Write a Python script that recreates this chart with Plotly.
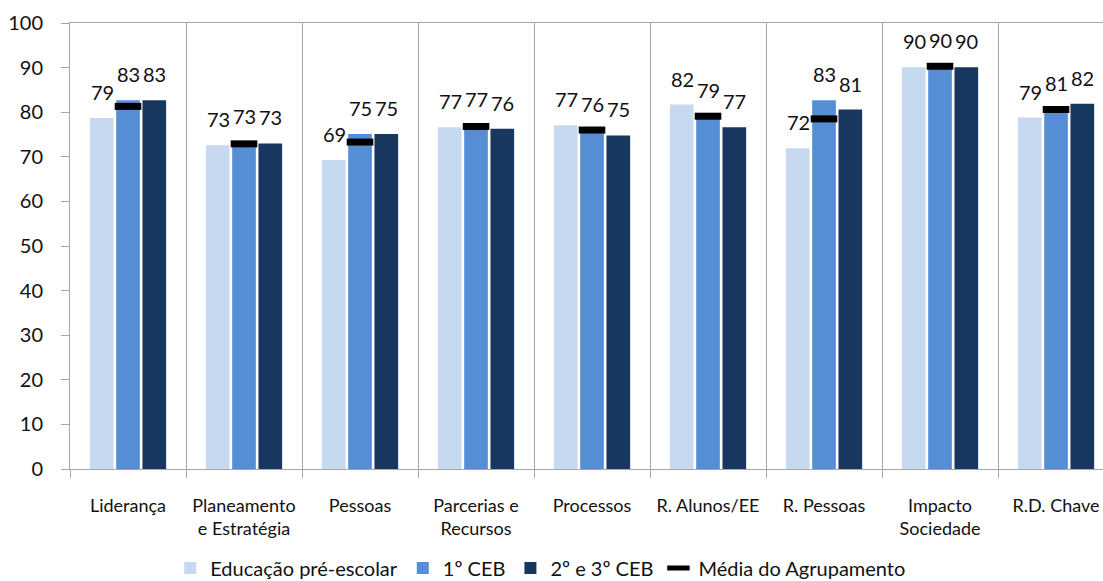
import plotly.graph_objects as go

categories = ["Liderança", "Planeamento<br>e Estratégia", "Pessoas", "Parcerias e<br>Recursos",
              "Processos", "R. Alunos/EE", "R. Pessoas", "Impacto<br>Sociedade", "R.D. Chave"]
pre_escolar = [78.7, 72.6, 69.3, 76.6, 77.1, 81.7, 71.9, 90.1, 78.8]
ceb1 = [82.7, 73.4, 75.1, 77.2, 76.1, 79.2, 82.7, 90.3, 80.7]
ceb23 = [82.7, 73.0, 75.1, 76.3, 74.8, 76.6, 80.6, 90.1, 81.9]
media = [81.3, 72.9, 73.3, 76.8, 76.0, 79.1, 78.5, 90.3, 80.6]

series = [
    ("Educação pré-escolar", pre_escolar, "#c6d9f1", -26),
    ("1º CEB", ceb1, "#558ed5", 0),
    ("2º e 3º CEB", ceb23, "#17375e", 26),
]

FONT = "Lato"
TXT = "#111111"
GRAY = "#a6a6a6"

fig = go.Figure()
annotations = []
for name, vals, color, dx in series:
    fig.add_trace(go.Bar(x=categories, y=vals, name=name, marker=dict(color=color, line=dict(width=0))))
    for c, v in zip(categories, vals):
        annotations.append(dict(x=c, y=v, xref="x", yref="y", text=f"{v:.0f}", showarrow=False,
                                xshift=dx, yshift=26, yanchor="middle",
                                font=dict(family=FONT, size=20, color=TXT)))

fig.add_trace(go.Scatter(x=categories, y=media, name="Média do Agrupamento", mode="markers",
                         marker=dict(symbol="line-ew", size=19, color="black",
                                     line=dict(width=7, color="black"))))

fig.update_layout(
    width=1103, height=581,
    margin=dict(l=70, r=0, t=23, b=112, autoexpand=False),
    paper_bgcolor="white", plot_bgcolor="white",
    barmode="group", bargap=0.32, bargroupgap=0.1,
    font=dict(family=FONT, size=20, color=TXT),
    annotations=annotations,
    legend=dict(orientation="h", x=0.097, xanchor="left", y=-0.222, yanchor="middle",
                font=dict(family=FONT, size=20, color=TXT), itemwidth=30, tracegroupgap=0),
    xaxis=dict(range=[-0.5, 8.405], tickson="boundaries", showgrid=True, gridcolor=GRAY, gridwidth=1,
               showline=True, linecolor=GRAY, mirror=True, ticks="outside", ticklen=8, tickcolor=GRAY,
               automargin=False, ticklabelstandoff=20, tickfont=dict(family=FONT, size=18, color=TXT)),
    yaxis=dict(range=[0, 100], dtick=10, showgrid=False, zeroline=False, showline=True, linecolor=GRAY,
               ticks="outside", ticklen=8, tickcolor=GRAY, ticklabelstandoff=14, automargin=False,
               tickfont=dict(family=FONT, size=20, color=TXT)),
)

fig.write_html("out.html")
